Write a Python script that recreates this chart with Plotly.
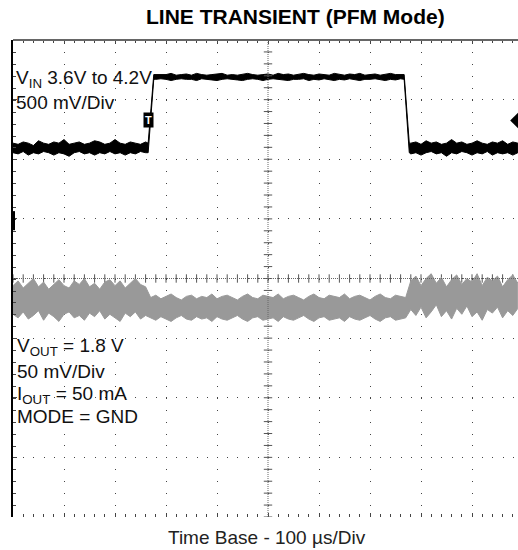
import numpy as np
import plotly.graph_objects as go

# ---------------- data ----------------
# time in microseconds (100 us/div, 10 div)
vin_t = (list(range(0, 261, 10)) + [265, 276] + list(range(280, 761, 10))
         + [767, 777] + list(range(780, 991, 10)))

# VIN trace envelope, volts (500 mV/div)
vin_upper = ([3.64, 3.63, 3.65, 3.64, 3.62, 3.66, 3.64, 3.63, 3.65, 3.64, 3.67, 3.63, 3.64, 3.65,
              3.63, 3.64, 3.66, 3.65, 3.63, 3.64, 3.67, 3.64, 3.63, 3.65, 3.64, 3.63, 3.65]
             + [3.64, 4.215]
             + [4.215, 4.21, 4.215, 4.225, 4.21, 4.215, 4.22,
                4.21, 4.225, 4.215, 4.21, 4.215, 4.22, 4.225,
                4.21, 4.215, 4.21, 4.22, 4.225, 4.215, 4.21,
                4.215, 4.22, 4.21, 4.225, 4.215, 4.22, 4.21,
                4.215, 4.225, 4.215, 4.21, 4.22, 4.215, 4.21,
                4.225, 4.215, 4.21, 4.22, 4.215, 4.225, 4.21,
                4.215, 4.22, 4.21, 4.215, 4.225, 4.215, 4.215]
             + [4.215, 3.64]
             + [3.64, 3.65, 3.63, 3.66, 3.64, 3.65, 3.63, 3.64, 3.67, 3.64, 3.65,
                3.63, 3.64, 3.66, 3.64, 3.63, 3.65, 3.64, 3.66, 3.63, 3.65, 3.64])
vin_lower = ([3.56, 3.55, 3.57, 3.54, 3.56, 3.55, 3.57, 3.56, 3.54, 3.56, 3.55, 3.53, 3.56, 3.57,
              3.55, 3.56, 3.54, 3.56, 3.55, 3.57, 3.55, 3.56, 3.54, 3.56, 3.55, 3.57, 3.56]
             + [3.56, 4.175]
             + [4.175, 4.18, 4.175, 4.165, 4.175, 4.18, 4.175,
                4.175, 4.165, 4.18, 4.175, 4.17, 4.165, 4.175,
                4.18, 4.175, 4.17, 4.165, 4.175, 4.18, 4.175,
                4.165, 4.175, 4.18, 4.175, 4.17, 4.165, 4.175,
                4.175, 4.18, 4.165, 4.175, 4.17, 4.18, 4.175,
                4.165, 4.175, 4.17, 4.18, 4.175, 4.165, 4.175,
                4.175, 4.18, 4.175, 4.165, 4.175, 4.17, 4.18]
             + [4.175, 3.56]
             + [3.55, 3.56, 3.54, 3.56, 3.57, 3.55, 3.56, 3.53, 3.56, 3.55, 3.57,
                3.56, 3.54, 3.56, 3.55, 3.57, 3.54, 3.56, 3.55, 3.56, 3.54, 3.56])

# VOUT trace envelope, volts (50 mV/div)
vout_t = list(range(0, 991, 10))
vout_upper = ([1.812, 1.816, 1.810, 1.814, 1.818, 1.811, 1.815, 1.809, 1.813, 1.817, 1.812, 1.810,
               1.816, 1.813, 1.818, 1.811, 1.814, 1.809, 1.815, 1.817, 1.812, 1.816, 1.810, 1.814,
               1.818, 1.813, 1.811]
              + [1.802, 1.804, 1.801, 1.803, 1.805, 1.802, 1.800, 1.803, 1.804, 1.801,
                 1.803, 1.802, 1.805, 1.801, 1.803, 1.804, 1.802, 1.800, 1.803, 1.805,
                 1.802, 1.801, 1.804, 1.803, 1.802, 1.805, 1.801, 1.803, 1.804, 1.802,
                 1.800, 1.803, 1.805, 1.802, 1.801, 1.804, 1.803, 1.802, 1.805, 1.801,
                 1.803, 1.804, 1.802, 1.800, 1.803, 1.805, 1.802, 1.801, 1.804, 1.803,
                 1.802]
              + [1.816, 1.820, 1.812, 1.818, 1.822, 1.814, 1.819, 1.811, 1.817, 1.821, 1.813,
                 1.818, 1.815, 1.822, 1.812, 1.819, 1.816, 1.820, 1.811, 1.817, 1.821, 1.814])
vout_lower = ([1.788, 1.785, 1.790, 1.784, 1.787, 1.791, 1.783, 1.789, 1.786, 1.782, 1.788, 1.790,
               1.785, 1.787, 1.783, 1.789, 1.786, 1.791, 1.784, 1.788, 1.785, 1.782, 1.789, 1.786,
               1.790, 1.784, 1.787]
              + [1.785, 1.783, 1.786, 1.784, 1.782, 1.785, 1.787, 1.784, 1.783, 1.786,
                 1.784, 1.785, 1.782, 1.786, 1.784, 1.783, 1.785, 1.787, 1.784, 1.782,
                 1.785, 1.786, 1.783, 1.784, 1.785, 1.782, 1.786, 1.784, 1.783, 1.785,
                 1.787, 1.784, 1.782, 1.785, 1.786, 1.783, 1.784, 1.785, 1.782, 1.786,
                 1.784, 1.783, 1.785, 1.787, 1.784, 1.782, 1.785, 1.786, 1.783, 1.784,
                 1.785]
              + [1.792, 1.787, 1.794, 1.785, 1.790, 1.796, 1.786, 1.791, 1.784, 1.793, 1.788,
                 1.795, 1.786, 1.790, 1.783, 1.792, 1.789, 1.794, 1.785, 1.791, 1.787, 1.793])

trig_time = 266      # us
trig_level = 3.83    # V
ch1_marker = [2.91, 3.07]

title_text = "<b>LINE TRANSIENT (PFM Mode)</b>"
xlabel_text = "Time Base - 100 \u00b5s/Div"
vin_labels = ["V<sub>IN</sub> 3.6V to 4.2V", "500 mV/Div"]
vout_labels = ["V<sub>OUT</sub> = 1.8 V", "50 mV/Div", "I<sub>OUT</sub> = 50 mA", "MODE = GND"]

# ---------------- figure ----------------
W, H = 518, 550
L, R, T, B = 13, 0, 40, 33
FONT = "Arial, Liberation Sans, sans-serif"

vin_range = [0.505, 4.505]
vout_range = [1.618, 2.018]
x_range = [0, 990.2]

fig = go.Figure()

fig.add_trace(go.Scatter(
    x=vout_t, y=vout_upper, yaxis="y2", mode="lines",
    line=dict(color="#999999", width=1), hoverinfo="skip", showlegend=False))
fig.add_trace(go.Scatter(
    x=vout_t, y=vout_lower, yaxis="y2", mode="lines", fill="tonexty",
    fillcolor="#999999", line=dict(color="#999999", width=1),
    hoverinfo="skip", showlegend=False))

fig.add_trace(go.Scatter(
    x=vin_t + vin_t[::-1], y=vin_upper + vin_lower[::-1], mode="lines",
    fill="toself", fillcolor="black", line=dict(color="black", width=1),
    hoverinfo="skip", showlegend=False))

# centre graticule cross ticks
xc = 500
yc = (vin_range[0] + vin_range[1]) / 2
fig.add_trace(go.Scatter(
    x=[xc] * 41, y=list(np.arange(vin_range[0], vin_range[1] + 1e-6, 0.1)), mode="markers",
    marker=dict(symbol="line-ew", size=6, line=dict(color="#555", width=1)),
    hoverinfo="skip", showlegend=False))
fig.add_trace(go.Scatter(
    x=list(np.arange(0, 991, 20)), y=[yc] * 50, mode="markers",
    marker=dict(symbol="line-ns", size=6, line=dict(color="#555", width=1)),
    hoverinfo="skip", showlegend=False))

# trigger level marker on the right edge
fig.add_trace(go.Scatter(
    x=[x_range[1]], y=[trig_level], mode="markers", cliponaxis=False,
    marker=dict(symbol="diamond", size=12, color="black"),
    hoverinfo="skip", showlegend=False))

shapes = [
    dict(type="line", xref="x", yref="paper", x0=xc, x1=xc, y0=0, y1=1,
         line=dict(color="#666", width=1, dash="1px,1px")),
    dict(type="line", xref="paper", yref="y", x0=0, x1=1, y0=yc, y1=yc,
         line=dict(color="#666", width=1, dash="1px,1px")),
    dict(type="line", xref="paper", yref="paper", x0=0, x1=1, y0=1, y1=1,
         line=dict(color="#666", width=2)),
    dict(type="line", xref="paper", yref="y", x0=0, x1=0,
         y0=ch1_marker[0], y1=ch1_marker[1], line=dict(color="black", width=4)),
]

pw, ph = W - L - R, H - T - B
def px_x(p):
    return (p - L) / pw
def px_y(p):
    return (H - B - p) / ph

ann = []
ann.append(dict(text=title_text, xref="paper", yref="paper", x=px_x(295), y=px_y(17),
                xanchor="center", yanchor="middle", showarrow=False,
                font=dict(family=FONT, size=21, color="black")))
ann.append(dict(text=xlabel_text, xref="paper", yref="paper", x=px_x(267), y=px_y(537),
                xanchor="center", yanchor="middle", showarrow=False,
                font=dict(family=FONT, size=19, color="#222")))
for txt, yy in zip(vin_labels, [79, 102]):
    ann.append(dict(text=txt, xref="paper", yref="paper", x=px_x(14), y=px_y(yy),
                    xanchor="left", yanchor="middle", showarrow=False,
                    font=dict(family=FONT, size=19, color="#111")))
for txt, yy in zip(vout_labels, [347, 371, 395, 416]):
    ann.append(dict(text=txt, xref="paper", yref="paper", x=px_x(15), y=px_y(yy),
                    xanchor="left", yanchor="middle", showarrow=False,
                    font=dict(family=FONT, size=19, color="#111")))
ann.append(dict(text="<b>T</b>", xref="x", yref="y", x=trig_time, y=trig_level,
                xanchor="center", yanchor="middle", showarrow=False, bgcolor="black",
                borderpad=1, font=dict(family=FONT, size=11, color="white")))

fig.update_layout(
    width=W, height=H, margin=dict(l=L, r=R, t=T, b=B),
    paper_bgcolor="white", plot_bgcolor="white",
    shapes=shapes, annotations=ann, showlegend=False,
    xaxis=dict(range=x_range, tick0=0, dtick=100, showgrid=True, gridcolor="#444",
               gridwidth=1, griddash="1px,10.925px", zeroline=False, showticklabels=False,
               ticks="inside", ticklen=4, tickcolor="#444", mirror="ticks", showline=False,
               minor=dict(dtick=20, ticks="inside", ticklen=3, tickcolor="#444", showgrid=False)),
    yaxis=dict(range=vin_range, tick0=vin_range[0], dtick=0.5, showgrid=True, gridcolor="#444",
               gridwidth=1, griddash="1px,9.2px", zeroline=False, showticklabels=False,
               showline=True, linecolor="black", linewidth=2,
               ticks="inside", ticklen=4, tickcolor="#444",
               minor=dict(dtick=0.1, ticks="inside", ticklen=3, tickcolor="#444", showgrid=False)),
    yaxis2=dict(range=vout_range, overlaying="y", visible=False),
)

fig.write_html(
    "out.html",
    config={"displayModeBar": False},
    post_script="document.body.style.margin='0px';document.documentElement.style.overflow='hidden';",
)
